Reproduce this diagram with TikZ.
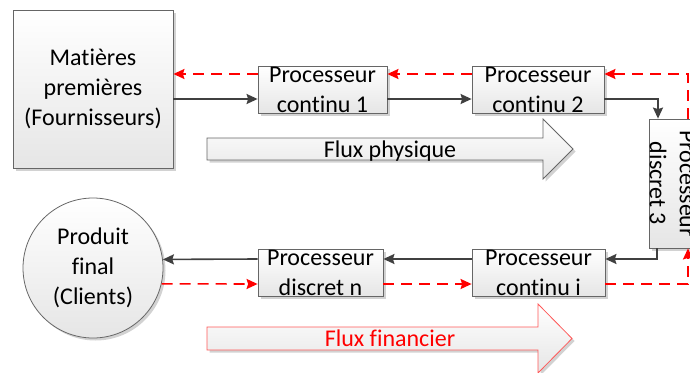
\documentclass[tikz,border=0pt]{standalone}
\usepackage{fontspec}
\setmainfont[Ligatures=NoCommon]{Carlito}
\usetikzlibrary{arrows.meta,shadows}

\begin{document}
\begin{tikzpicture}[x=1pt,y=-1pt,
  txt/.style={font=\fontsize{24}{30}\selectfont},
  shade/.style={top color=white, bottom color=black!10,
    drop shadow={shadow xshift=2.5pt, shadow yshift=-2.5pt, fill=black!35, opacity=0.5}},
  box/.style={shade, txt, draw=black!60, line width=0.8pt, align=center, inner sep=0pt},
  tip/.style={-{Stealth[length=11pt, width=10pt, inset=1.5pt]}},
  flow/.style={tip, draw=black!75, line width=1.6pt},
  fin/.style={tip, draw=red, line width=1.6pt, dash pattern=on 11pt off 7pt},
]
\useasboundingbox (0,0) rectangle (690,372);
\clip (0,0) rectangle (690,372);

% suppliers, processors and customers
\node[box, minimum width=160pt, minimum height=158pt] (mp) at (93,89) {Matières\\premières\\(Fournisseurs)};
\node[box, minimum width=129pt, minimum height=47pt] (c1) at (322.5,89.5) {Processeur\\continu 1};
\node[box, minimum width=132pt, minimum height=47pt] (c2) at (538,89.5) {Processeur\\continu 2};
\node[box, rotate=-90, minimum width=129pt, minimum height=47pt] (d3) at (672.5,183.5) {Processeur\\discret 3};
\node[box, minimum width=133pt, minimum height=47pt] (ci) at (538.5,272.5) {Processeur\\continu i};
\node[box, minimum width=125pt, minimum height=47pt] (dn) at (320.5,272.5) {Processeur\\discret n};
\node[box, circle, minimum size=140pt] (pf) at (93,268) {Produit\\final\\(Clients)};

% big flow arrows
\path[shade, draw=black!60, line width=0.8pt]
  (207,138) -- (543,138) -- (543,119) -- (573,149) -- (543,179) -- (543,160) -- (207,160) -- cycle;
\node[txt, anchor=base] (fp) at (390,157) {Flux physique};
\path[shade, draw=red!65, line width=0.8pt]
  (207,327) -- (538,327) -- (538,304) -- (572,338.5) -- (538,373) -- (538,350) -- (207,350) -- cycle;
\node[txt, text=red, anchor=base] (ff) at (390,346) {Flux financier};

% physical flow (solid) and financial flow (dashed)
\draw[flow] (mp.east |- 0,99) -- (c1.west |- 0,99);
\draw[fin]  (c1.west |- 0,74) -- (mp.east |- 0,74);
\draw[flow] (c1.east |- 0,99) -- (c2.west |- 0,99);
\draw[fin]  (c2.west |- 0,74) -- (c1.east |- 0,74);
\draw[flow] (c2.east |- 0,99) -| (658,0 |- d3.west);
\draw[fin]  (688,0 |- d3.west) |- (c2.east |- 0,74);
\draw[flow] (657,0 |- d3.east) |- (ci.east |- 0,259);
\draw[fin]  (ci.east |- 0,284) -| (688,0 |- d3.east);
\draw[flow] (ci.west |- 0,259) -- (dn.east |- 0,259);
\draw[fin]  (dn.east |- 0,284) -- (ci.west |- 0,284);
\draw[flow] (dn.west |- 0,259) -- (pf.7.4);
\draw[fin]  (pf.-13.2) -- (dn.west |- 0,284);
\end{tikzpicture}
\end{document}
